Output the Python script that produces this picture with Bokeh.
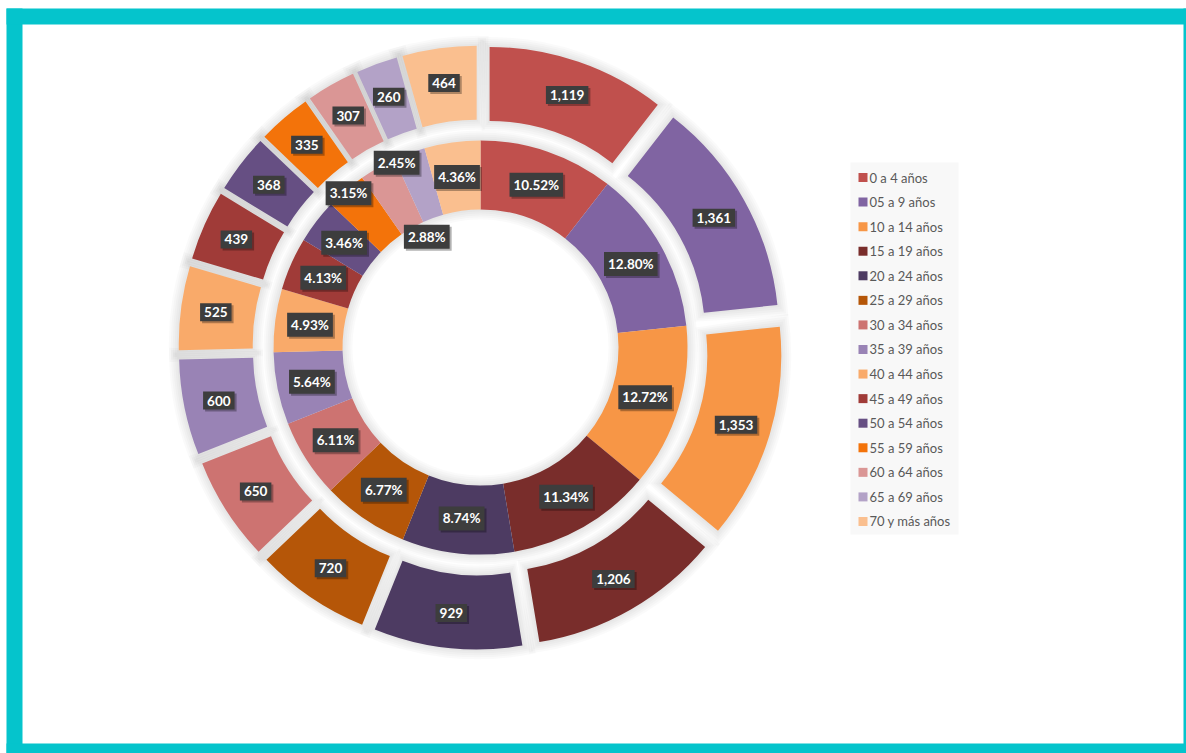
import math
from bokeh.plotting import figure
from bokeh.models import ColumnDataSource, Range1d
from bokeh.core.properties import value
from bokeh.embed import file_html
from bokeh.resources import INLINE

# ---------------- data ----------------
categories = ["0 a 4 años", "05 a 9 años", "10 a 14 años", "15 a 19 años",
              "20 a 24 años", "25 a 29 años", "30 a 34 años", "35 a 39 años",
              "40 a 44 años", "45 a 49 años", "50 a 54 años", "55 a 59 años",
              "60 a 64 años", "65 a 69 años", "70 y más años"]
counts = [1119, 1361, 1353, 1206, 929, 720, 650, 600, 525, 439, 368, 335, 307, 260, 464]
percents = [10.52, 12.80, 12.72, 11.34, 8.74, 6.77, 6.11, 5.64, 4.93, 4.13,
            3.46, 3.15, 2.88, 2.45, 4.36]

# ---------------- style ----------------
colors = ["#C0504D", "#8064A2", "#F79646", "#792D2B", "#4D3B62", "#B55608",
          "#CD7371", "#9983B5", "#F9AA6A", "#A03B38", "#664F83", "#F3730A",
          "#DA9695", "#B3A2C7", "#FABF8F"]
# label nudges for the inner ring (radius offset px, angle offset deg, clockwise +)
inner_dr = [0, 0, 0, 0, 0, 0, 0, 0, 0, 0, 0, 31, -49, 31, 0]
inner_dt = [0, 0, 0, 0, 0, 0, 0, 0, 0, 0, 0, 0, 3.8, -4.3, 0]

W, H = 1186, 753
CYAN = "#05C4CC"
CX, CY = 480, H - 347
R_OUT, R_IN, EXPLODE = 274, 200, 28
RI_OUT, RI_IN = 207, 138
L_OUT, L_IN = 267, 172

p = figure(width=W, height=H, output_backend="svg", toolbar_location=None,
           x_range=Range1d(0, W), y_range=Range1d(0, H),
           x_axis_type=None, y_axis_type=None,
           min_border_left=0, min_border_right=0, min_border_top=0, min_border_bottom=0,
           border_fill_color="white", background_fill_color="white",
           outline_line_color=None)

# frame (screen coords -> data y = H - screen y)
p.quad(left=[6, 6, 1183, 6], right=[22, 1186, 1186, 1186],
       top=[H - 8, H - 8, H - 8, H - 743], bottom=[0, H - 24, 0, 0],
       fill_color=CYAN, line_color=None)


def angles(vals):
    tot = float(sum(vals))
    a0s, a1s, c = [], [], 0.0
    for v in vals:
        a0s.append(math.pi / 2 - 2 * math.pi * c / tot)
        c += v
        a1s.append(math.pi / 2 - 2 * math.pi * c / tot)
    return a0s, a1s


# ---------------- outer ring (exploded) ----------------
oa0, oa1 = angles(counts)
omid = [(a + b) / 2 for a, b in zip(oa0, oa1)]
ox = [CX + EXPLODE * math.cos(m) for m in omid]
oy = [CY + EXPLODE * math.sin(m) for m in omid]
rmid = (R_OUT + R_IN) / 2
for e in (10, 8, 6, 4, 2):
    p.annular_wedge(x=ox, y=oy, inner_radius=R_IN - e, outer_radius=R_OUT + e,
                    start_angle=[a + e / rmid for a in oa0],
                    end_angle=[b - e / rmid for b in oa1],
                    direction="clock", fill_color="black", fill_alpha=0.018,
                    line_color=None)
osrc = ColumnDataSource(dict(x=ox, y=oy, a0=oa0, a1=oa1, c=colors))
p.annular_wedge(x="x", y="y", inner_radius=R_IN, outer_radius=R_OUT,
                start_angle="a0", end_angle="a1", direction="clock",
                fill_color="c", line_color=None, source=osrc)

# ---------------- inner ring ----------------
ia0, ia1 = angles(percents)
for e in (10, 8, 6, 4, 2):
    p.annulus(x=[CX], y=[CY], inner_radius=RI_IN - e, outer_radius=RI_OUT + e,
              fill_color="black", fill_alpha=0.018, line_color=None)
isrc = ColumnDataSource(dict(a0=ia0, a1=ia1, c=colors))
p.annular_wedge(x=CX, y=CY, inner_radius=RI_IN, outer_radius=RI_OUT,
                start_angle="a0", end_angle="a1", direction="clock",
                fill_color="c", line_color=None, source=isrc)

# ---------------- labels ----------------
olx = [CX + L_OUT * math.cos(m) for m in omid]
oly = [CY + L_OUT * math.sin(m) for m in omid]
otxt = [f"{v:,}" for v in counts]
imid = [(a + b) / 2 - math.radians(dt) for a, b, dt in zip(ia0, ia1, inner_dt)]
ilx = [CX + (L_IN + dr) * math.cos(m) for m, dr in zip(imid, inner_dr)]
ily = [CY + (L_IN + dr) * math.sin(m) for m, dr in zip(imid, inner_dr)]
itxt = [f"{v:.2f}%" for v in percents]

lab = ColumnDataSource(dict(x=olx + ilx, y=oly + ily, t=otxt + itxt))
common = dict(x="x", y="y", text="t", text_align="center", text_baseline="middle",
              text_font=value("Lato"), text_font_style="bold", text_font_size="13.5px",
              padding=4, source=lab)
p.text(text_alpha=0, background_fill_color="black", background_fill_alpha=0.3,
       x_offset=2, y_offset=2, **common)
p.text(text_color="white", background_fill_color="#3D3D3D", **common)

# ---------------- legend ----------------
LEG_X, LEG_TOP, LEG_STEP = 850, 177, 24.57
n = len(categories)
ly = [H - (LEG_TOP + LEG_STEP * i) for i in range(n)]
p.quad(left=[LEG_X], right=[LEG_X + 108], top=[H - (LEG_TOP - 15)],
       bottom=[H - (LEG_TOP + LEG_STEP * (n - 1) + 13)],
       fill_color="#F8F8F8", line_color=None)
p.rect(x=[LEG_X + 12.5] * n, y=ly, width=9, height=9, fill_color=colors, line_color=None)
p.text(x=[LEG_X + 19] * n, y=ly, text=categories, text_baseline="middle",
       text_font=value("Lato"), text_font_size="13px", text_color="#595959")

open("out.html", "w").write(file_html(p, INLINE))
